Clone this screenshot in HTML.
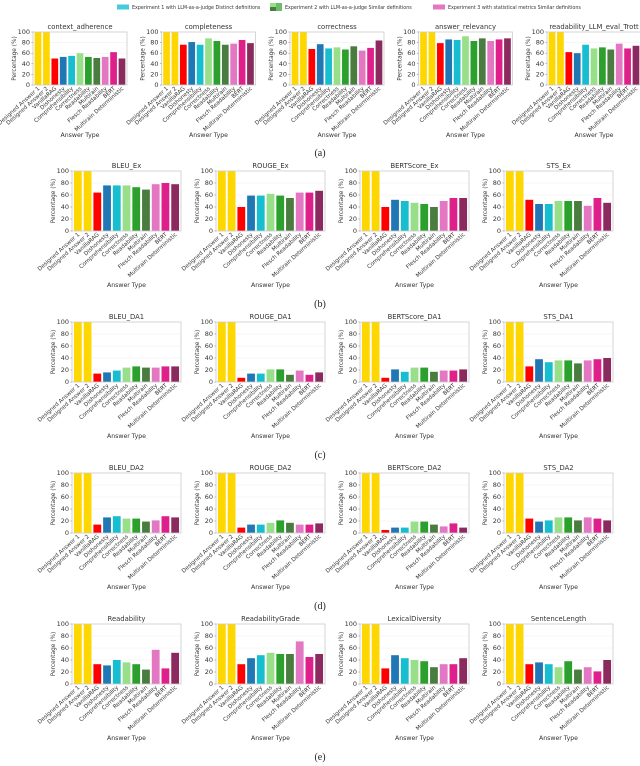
<!DOCTYPE html>
<html><head><meta charset="utf-8"><style>
html,body{margin:0;padding:0;background:#fff;}
svg{display:block;font-family:"DejaVu Sans","Liberation Sans",sans-serif;}
</style></head><body>
<svg id="fig" width="640" height="766" viewBox="0 0 640 766">
  <g font-size="4.8" fill="#333">
    <rect x="117" y="4.5" width="12" height="5" fill="#17becf" opacity="0.8"/>
    <text x="132" y="9">Experiment 1 with LLM-as-a-judge Distinct definitions</text>
    <rect x="270" y="3" width="6" height="4" fill="#98df8a"/>
    <rect x="270" y="7" width="6" height="4" fill="#4a7c3f"/>
    <rect x="276" y="3" width="6" height="8" fill="#2ca02c" opacity="0.7"/>
    <text x="285" y="9">Experiment 2 with LLM-as-a-judge  Similar definitions</text>
    <rect x="433" y="4.5" width="12" height="5" fill="#e377c2"/>
    <text x="448" y="9">Experiment 3 with statistical metrics  Similar definitions</text>
  </g>
  <g id="panels"></g>
</svg>
<script>
const categories = ["Designed Answer 1","Designed Answer 2","VanillaRAG","Dishonesty","Comprehensibility","Correctness","Readability","Multirain","Flesch Readability","BERT","Multirain Deterministic"];
const colors = ["#FFD700","#FFD700","#FF0000","#1f77b4","#17becf","#98df8a","#2ca02c","#4a7c3f","#e377c2","#e0208a","#8b2a5e"];
const yTicks = [0,20,40,60,80,100];
const titles = ["context_adherence","completeness","correctness","answer_relevancy","readability_LLM_eval_Trott",
 "BLEU_Ex","ROUGE_Ex","BERTScore_Ex","STS_Ex",
 "BLEU_DA1","ROUGE_DA1","BERTScore_DA1","STS_DA1",
 "BLEU_DA2","ROUGE_DA2","BERTScore_DA2","STS_DA2",
 "Readability","ReadabilityGrade","LexicalDiversity","SentenceLength"];
const contextAdherence = [100,100,50,53,55,60,53,51,53,62,50];
const completeness = [100,100,76,81,76,88,83,76,78,85,79];
const correctness = [100,100,68,77,69,71,67,73,65,70,84];
const answerRelevancy = [100,100,79,86,85,92,83,88,83,86,88];
const readabilityTrott = [100,100,62,60,76,69,71,67,78,69,74];
const bleuEx = [100,100,64,76,76,76,73,69,78,80,78];
const rougeEx = [100,100,40,59,59,62,59,55,64,64,67];
const bertEx = [100,100,40,52,50,47,45,40,50,55,55];
const stsEx = [100,100,52,45,45,50,50,50,42,55,47];
const bleuDA1 = [100,100,14,16,19,24,26,24,24,26,26];
const rougeDA1 = [100,100,7,14,14,21,21,12,19,12,16];
const bertDA1 = [100,100,7,21,17,24,24,17,19,19,21];
const stsDA1 = [100,100,26,38,33,36,36,31,36,38,40];
const bleuDA2 = [100,100,14,26,28,24,24,19,21,28,26];
const rougeDA2 = [100,100,9,14,14,17,21,17,14,14,16];
const bertDA2 = [100,100,5,9,9,19,19,14,11,16,9];
const stsDA2 = [100,100,24,19,21,26,26,21,26,24,21];
const readability = [100,100,33,31,40,36,33,24,57,26,52];
const readabilityGrade = [100,100,33,43,48,52,50,50,71,45,50];
const lexicalDiversity = [100,100,26,48,43,40,38,28,33,33,43];
const sentenceLength = [100,100,33,36,33,28,38,24,28,21,40];
const series = [contextAdherence,completeness,correctness,answerRelevancy,readabilityTrott,
 bleuEx,rougeEx,bertEx,stsEx,bleuDA1,rougeDA1,bertDA1,stsDA1,bleuDA2,rougeDA2,bertDA2,stsDA2,
 readability,readabilityGrade,lexicalDiversity,sentenceLength];
const rowLabels = ["(a)","(b)","(c)","(d)","(e)"];

const NS="http://www.w3.org/2000/svg";
const root=document.getElementById('panels');
function mk(tag,attrs,parent,text){const e=document.createElementNS(NS,tag);for(const k in attrs)e.setAttribute(k,attrs[k]);if(text!==undefined)e.textContent=text;parent.appendChild(e);return e;}

function layout(i){
  if(i<5) return {x:33+i*128.5,y:32,w:94,h:53};
  const j=i-5,row=Math.floor(j/4),col=j%4;
  return {x:72+col*144,y:171+row*151,w:109,h:60};
}
function panel(i){
  const L=layout(i),vals=series[i];
  const g=mk('g',{},root);
  
  
  const xs=v=>L.x+(v+0.6)/11.2*L.w;
  const ys=v=>L.y+L.h-v/100*L.h;
  const bw=0.8/11.2*L.w;
  yTicks.forEach(t=>{
    const gl=mk('line',{x1:L.x,x2:L.x+L.w,y1:ys(t),y2:ys(t),stroke:'#eee','stroke-width':0.5},g);
    
    
    const tl=mk('text',{x:L.x-3,y:ys(t)+2,'text-anchor':'end','font-size':6.5,fill:'#333'},g,String(t));
    
    
    mk('line',{x1:L.x-1.5,x2:L.x,y1:ys(t),y2:ys(t),stroke:'#555','stroke-width':0.5},g);
  });
  vals.forEach((v,k)=>{
    const r=mk('rect',{x:xs(k)-bw/2,y:ys(v),width:bw,height:ys(0)-ys(v),fill:colors[k]},g);
    
    
    const lbl=mk('text',{x:0,y:0,'text-anchor':'end','font-size':5.6,fill:'#333',transform:`translate(${xs(k)+2},${L.y+L.h+4}) rotate(-42)`},g,categories[k]);
    
    
  });
  const box=mk('rect',{x:L.x,y:L.y,width:L.w,height:L.h,fill:'none',stroke:'#ccc','stroke-width':0.8},g);
  
  
  const t=mk('text',{x:L.x+L.w/2,y:L.y-3,'text-anchor':'middle','font-size':6.8,fill:'#333'},g,titles[i]);
  
  
  const yl=mk('text',{x:0,y:0,'text-anchor':'middle','font-size':5.8,fill:'#333',transform:`translate(${L.x-17},${L.y+L.h/2}) rotate(-90)`},g,'Percentage (%)');
  
  
  const xl=mk('text',{x:L.x+L.w/2,y:L.y+L.h+(i<5?52:56),'text-anchor':'middle','font-size':6.2,fill:'#333'},g,'Answer Type');
  
  
}
for(let i=0;i<titles.length;i++) panel(i);
rowLabels.forEach((s,r)=>{
  const e=mk('text',{x:320,y:156+r*151,'text-anchor':'middle','font-size':10,'font-family':'"Liberation Serif",serif',fill:'#222'},root,s);
  
  
});
</script>
</body></html>
